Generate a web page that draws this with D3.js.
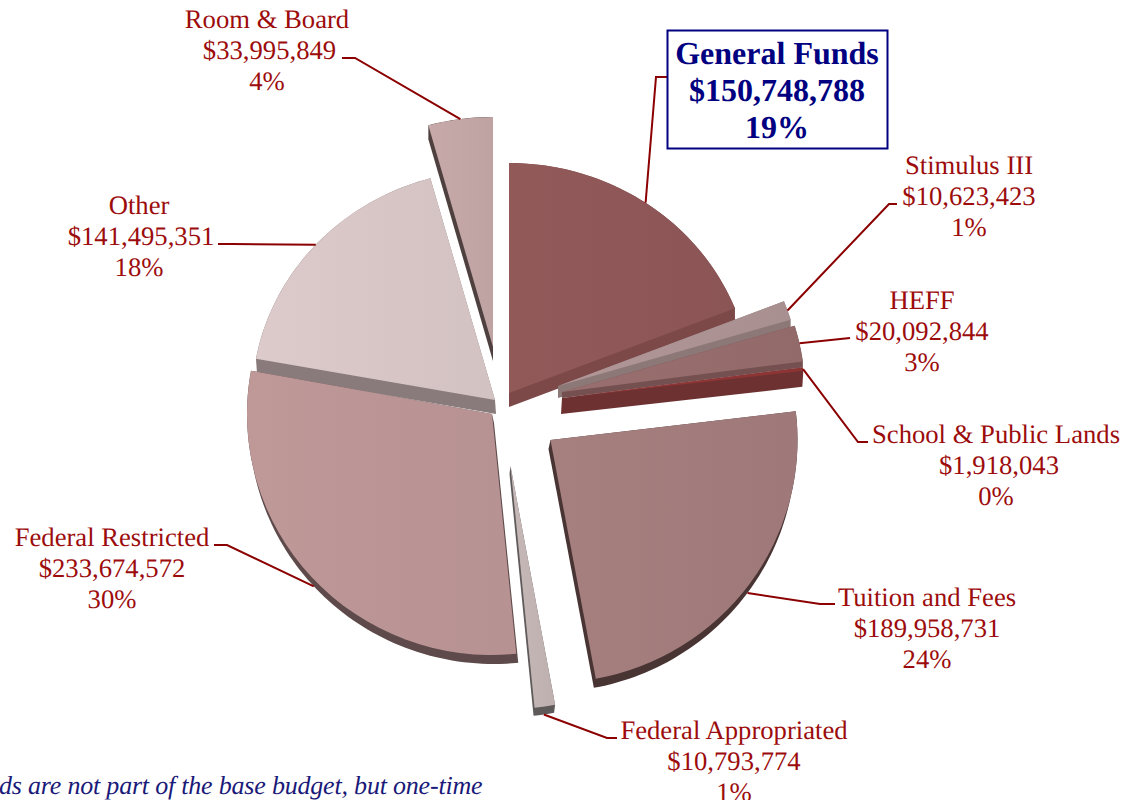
<!DOCTYPE html>
<html><head><meta charset="utf-8">
<script src="https://cdn.jsdelivr.net/npm/d3@7/dist/d3.min.js"></script>
<style>html,body{margin:0;padding:0;background:#fff;overflow:hidden}svg{display:block}text{text-rendering:geometricPrecision}</style>
</head><body><svg id="c" width="1124" height="800"></svg>
<script>
const categories=["General Funds","Stimulus III","HEFF","School & Public Lands","Tuition and Fees","Federal Appropriated","Federal Restricted","Other","Room & Board"];
const values=[150748788,10623423,20092844,1918043,189958731,10793774,233674572,141495351,33995849];
const percents=[19,1,3,0,24,1,30,18,4];
const topColors=["#8f5757","#ad9393","#966c6c","#8f3535","#a27c7c","#c3b4b4","#bb9595","#d8c6c6","#c3a5a5"];
const sideColors=["#7d4848","#8d7878","#745050","#6d3131","#493434","#5f5a5a","#5e4a4a","#897b7b","#4f4040"];
// exploded layout: apex of each slice, radii, extrusion
const apexes=[[509,393],[558,386],[562,392],[562,398],[550.5,440],[510.5,466],[492,414],[495,400],[493,347]];
const radii=[[243,230],[243,230],[243,230],[243,230],[247,243],[243,243],[245,241],[243,230],[243,230]];
const extrude=[[0,14],[0,12],[0,6],[-1,16],[-2,9],[-1,8],[2,9],[1,14],[0,14]];
const leaderElbows=[[[656,77],[667,77]],[[889,204],[897,204]],[[850,338]],[[858,442],[868,442]],[[820,604],[835,604]],[[607,738],[617,738]],[[227,545],[214,545]],[[232,244],[218,244]],[[355,58],[342,58]]];
const labelPos=[[777,64],[969,174],[922,309],[996,443],[927,606],[734,739],[112,546],[139,214],[267,28]];
const valueNudge=[0,0,0,3,0,0,0,2,2.5];
const drawOrder=[8,7,6,5,4,0,1,2,3];
const footnote="ds are not part of the base budget, but one-time";

const svg=d3.select("#c");
const pie=d3.pie().sort(null).value(d=>d);
const arcs=pie(values);
const R=100;
const arc=d3.arc().innerRadius(0).outerRadius(R);
const rim=d3.arc().innerRadius(R).outerRadius(R);
const money=d3.format("$,.0f");
const defs=svg.append("defs");
topColors.forEach((c,i)=>{
  const g=defs.append("linearGradient").attr("id","g"+i);
  g.append("stop").attr("offset","0%").attr("stop-color",d3.color(c).brighter(0.06).formatHex());
  g.append("stop").attr("offset","100%").attr("stop-color",d3.color(c).darker(0.06).formatHex());
});
const tf=i=>`translate(${apexes[i][0]},${apexes[i][1]}) scale(${radii[i][0]/R},${radii[i][1]/R})`;
// outline of a slice on the page, sampled from the arc generator
const rimPoint=(i,a)=>{
  const [x,y]=rim.centroid({startAngle:a,endAngle:a});
  return [apexes[i][0]+x*radii[i][0]/R,apexes[i][1]+y*radii[i][1]/R];
};
const outline=i=>{
  const a=arcs[i];
  const n=Math.max(2,Math.ceil((a.endAngle-a.startAngle)*40));
  return [apexes[i],...d3.range(n+1).map(k=>rimPoint(i,a.startAngle+(a.endAngle-a.startAngle)*k/n))];
};

const pies=svg.append("g");
drawOrder.forEach(i=>{
  const [ex,ey]=extrude[i];
  const pts=outline(i);
  const hull=d3.polygonHull([...pts,...pts.map(p=>[p[0]+ex,p[1]+ey])]);
  const sg=pies.append("g");
  sg.append("path").attr("d",d3.line()(hull)+"Z").attr("fill",sideColors[i]);
  sg.append("path").attr("d",arc(arcs[i])).attr("fill",`url(#g${i})`).attr("transform",tf(i));
});

const leaderLine=d3.line();
const leaders=svg.append("g").attr("fill","none").attr("stroke","#8b0000").attr("stroke-width",2);
categories.forEach((c,i)=>{
  const mid=(arcs[i].startAngle+arcs[i].endAngle)/2;
  const p=rimPoint(i,mid);
  const lower=Math.abs(mid-Math.PI)<Math.PI/2;
  const start=lower?[p[0]+extrude[i][0],p[1]+extrude[i][1]]:p;
  leaders.append("path").attr("d",leaderLine([start,...leaderElbows[i]]));
});

const labels=svg.append("g").attr("font-family","'Liberation Serif',serif").attr("text-anchor","middle");
// highlighted label box
labels.append("rect").attr("x",667.5).attr("y",30.5).attr("width",220).attr("height",118)
  .attr("fill","#fff").attr("stroke","#000080").attr("stroke-width",2);
categories.forEach((c,i)=>{
  const main=i===0;
  const step=main?37:31;
  [c,money(values[i]),percents[i]+"%"].forEach((t,k)=>{
    labels.append("text").attr("x",labelPos[i][0]+(k===1?valueNudge[i]:0)).attr("y",labelPos[i][1]+k*step)
      .attr("font-size",main?32:26.67).attr("font-weight",main?"bold":"normal")
      .attr("fill",main?"#000080":"#9c0c0c").text(t);
  });
});
svg.append("text").attr("x",-1).attr("y",794).attr("font-family","'Liberation Serif',serif")
  .attr("font-style","italic").attr("font-size",26).attr("letter-spacing",-0.2).attr("fill","#1a1a78").text(footnote);
</script></body></html>
